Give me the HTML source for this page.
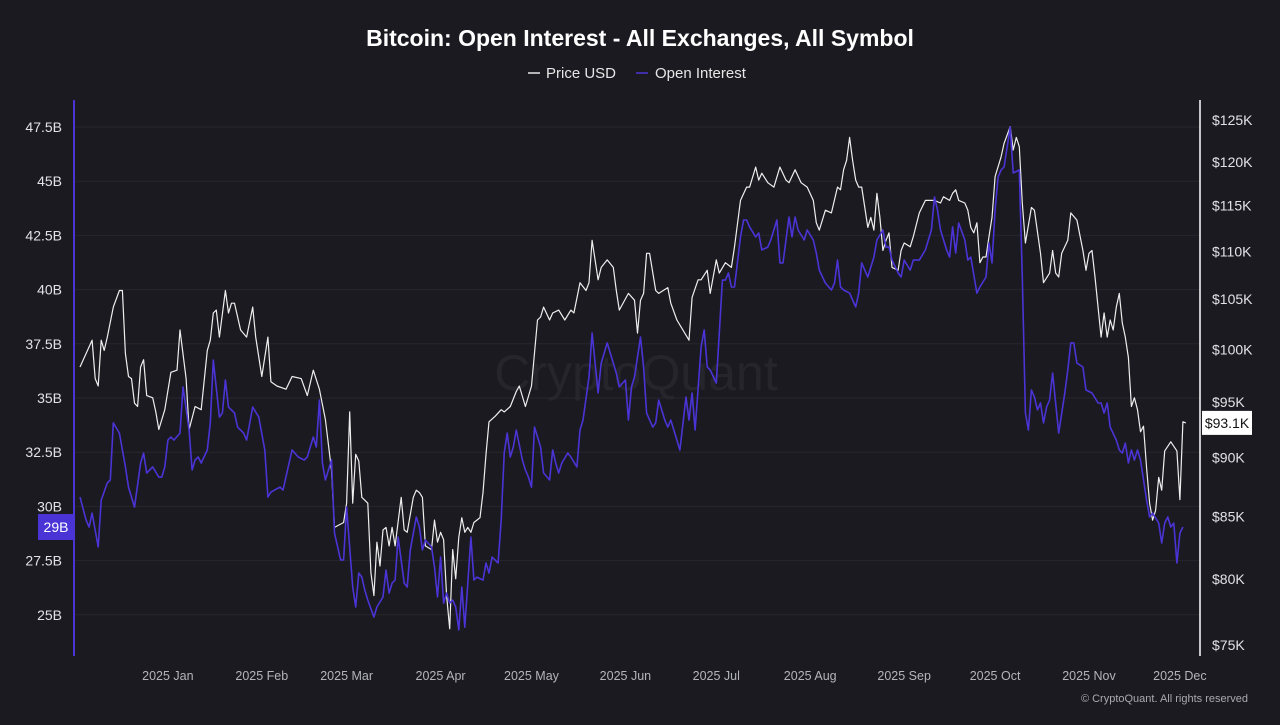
<!DOCTYPE html>
<html><head><meta charset="utf-8">
<style>
html,body{margin:0;padding:0;background:#1b1a20;}
body{width:1280px;height:720px;overflow:hidden;font-family:"Liberation Sans",sans-serif;}
svg text{font-family:"Liberation Sans",sans-serif;}
</style></head>
<body>
<svg id="chart" width="1280" height="720" viewBox="0 0 1280 720" xmlns="http://www.w3.org/2000/svg">
<rect x="0" y="0" width="1280" height="720" fill="#1b1a20"/>
<text x="640" y="46" text-anchor="middle" fill="#ffffff" font-size="23" font-weight="bold">Bitcoin: Open Interest - All Exchanges, All Symbol</text>
<g>
 <g><line x1="528" y1="73" x2="540" y2="73" stroke="#e8e8e8" stroke-width="1.5"/><text x="546" y="78" fill="#e6e6e6" font-size="15">Price USD</text></g>
 <g><line x1="636" y1="73" x2="648" y2="73" stroke="#4a34d6" stroke-width="1.5"/><text x="655" y="78" fill="#e6e6e6" font-size="15">Open Interest</text></g>
</g>
<text x="636" y="390" text-anchor="middle" fill="#26252c" font-size="50">CryptoQuant</text>
<g id="grid"></g>
<g id="lyax"></g>
<g id="ryax"></g>
<g id="xax"></g>
<g id="series"></g>
<g id="badges"></g>
<text x="1248" y="702" text-anchor="end" fill="#a9a9b0" font-size="11">© CryptoQuant. All rights reserved</text>
</svg>
<script>
// ---- data ----
const oiTicks = [25, 27.5, 30, 32.5, 35, 37.5, 40, 42.5, 45, 47.5];
const oiTickLabels = ["25B","27.5B","30B","32.5B","35B","37.5B","40B","42.5B","45B","47.5B"];
const priceTicks = [75, 80, 85, 90, 95, 100, 105, 110, 115, 120, 125];
const priceTickLabels = ["$75K","$80K","$85K","$90K","$95K","$100K","$105K","$110K","$115K","$120K","$125K"];
const monthDays = [29, 60, 88, 119, 149, 180, 210, 241, 272, 302, 333, 363];
const monthLabels = ["2025 Jan","2025 Feb","2025 Mar","2025 Apr","2025 May","2025 Jun","2025 Jul","2025 Aug","2025 Sep","2025 Oct","2025 Nov","2025 Dec"];
// day index from 2024-12-03
const priceDays = [0,2,4,5,6,7,8,9,11,13,14,15,16,17,18,19,20,21,22,24,25,26,28,30,32,33,35,36,38,40,42,43,44,45,46,48,49,50,51,53,55,57,58,60,62,63,65,68,70,73,75,77,79,81,83,84,87,88,89,90,91,92,93,95,96,97,98,99,100,101,102,103,104,106,107,108,110,111,112,113,114,116,117,118,119,120,121,122,123,124,125,126,127,128,129,130,131,132,133,134,135,137,139,140,142,144,145,147,149,151,152,153,155,156,158,160,162,163,165,167,168,169,171,172,174,176,177,178,181,183,184,185,186,187,188,190,191,194,195,197,201,202,204,205,207,208,210,211,213,215,216,218,220,221,223,224,225,227,229,231,233,234,236,238,240,242,243,244,246,248,250,251,252,253,254,255,256,257,258,259,260,261,262,263,264,265,266,267,268,270,271,272,274,275,277,279,282,284,285,287,288,289,290,292,293,294,295,296,297,298,299,300,301,302,304,305,307,308,309,310,311,312,314,315,317,318,320,321,322,323,324,326,327,329,331,332,333,334,335,337,338,339,340,341,342,343,344,345,346,347,348,349,350,351,352,353,354,355,356,357,358,360,362,363,364,365];
const priceValues = [98.3,99.6,100.9,97.2,96.5,100.9,99.9,101.2,104.2,105.9,105.9,99.6,97.4,97.2,94.9,94.6,98.3,99.0,95.6,95.4,94.1,92.5,94.3,97.8,98.0,101.9,97.2,92.5,94.6,94.3,99.9,100.9,103.6,103.9,101.2,105.9,103.6,104.6,104.6,101.9,101.2,104.2,101.2,97.4,101.2,96.9,96.5,96.2,97.4,97.2,95.6,98.0,96.2,93.4,88.9,84.1,84.5,86.1,94.1,86.1,90.3,89.7,86.6,86.1,80.5,78.7,82.9,81.0,83.9,84.1,82.6,84.1,82.6,86.6,83.9,83.7,86.6,87.2,87.0,86.6,82.6,82.3,84.7,82.9,83.7,83.1,78.7,76.2,82.3,80.0,83.3,84.9,83.7,84.1,83.7,84.5,84.7,84.9,87.0,90.3,93.2,93.7,94.3,94.1,94.6,96.0,96.5,94.6,96.5,102.9,103.2,104.2,102.9,103.6,103.9,102.9,103.9,103.6,106.7,105.9,106.7,111.2,107.0,108.3,109.1,108.3,105.9,103.9,105.6,104.9,101.6,104.9,105.6,109.8,109.8,105.9,105.6,106.2,104.6,102.9,100.9,105.2,107.0,107.0,108.0,105.6,109.1,107.7,108.8,108.3,110.5,115.6,117.1,117.1,119.4,117.9,118.7,117.6,117.1,119.4,117.9,117.6,119.1,117.6,117.1,115.6,113.1,112.3,114.5,114.2,117.1,116.8,119.1,120.2,122.9,120.2,117.9,117.1,117.1,114.8,112.6,113.7,112.3,116.4,113.7,110.1,111.2,112.0,108.3,108.0,110.1,110.9,110.5,111.6,114.2,115.6,115.6,115.3,116.0,115.6,116.4,116.8,115.6,115.3,114.5,112.6,112.0,113.1,108.8,109.4,109.4,111.6,113.7,118.3,120.6,122.2,124.2,121.4,122.9,121.8,115.3,110.9,114.8,114.5,109.8,106.7,107.7,110.1,107.7,107.3,109.8,111.2,114.2,113.4,110.1,108.0,109.8,110.1,107.3,101.2,103.6,101.2,102.9,101.9,104.2,105.6,102.6,101.2,99.2,94.6,95.4,94.3,92.3,92.8,89.1,86.1,84.7,85.5,88.3,87.2,90.6,91.4,90.6,86.4,93.2,93.1];
const oiDays = [0,2,3,4,6,7,9,10,11,13,15,16,17,18,20,21,22,23,24,26,27,28,29,30,31,33,34,36,37,38,39,40,42,43,44,46,47,48,49,51,52,54,55,57,59,61,62,63,66,67,69,70,72,74,75,77,78,79,80,81,83,84,86,87,88,90,91,92,93,94,95,97,98,100,101,102,103,104,105,107,108,109,111,112,113,114,116,117,118,119,120,121,122,123,124,125,126,127,128,129,130,131,133,134,135,136,138,139,140,141,142,143,144,146,147,148,149,150,152,153,155,156,157,158,159,161,162,164,165,166,168,169,171,172,174,175,177,178,180,181,182,183,185,186,187,189,190,191,193,194,195,197,198,200,201,202,203,205,206,207,208,210,211,212,213,214,215,216,218,219,220,221,223,224,225,227,228,230,231,232,234,235,236,237,239,240,242,243,244,246,248,249,250,251,252,254,255,256,257,258,260,262,263,265,266,267,268,270,271,272,274,275,277,279,281,282,283,284,286,287,288,289,290,292,293,294,296,297,299,300,301,302,303,304,305,307,308,310,311,312,313,314,315,316,317,318,319,320,321,323,325,326,327,328,329,331,332,334,336,337,338,339,340,342,343,344,345,346,347,348,349,350,352,353,354,356,357,358,359,360,361,362,363,364];
const oiValues = [30.43,29.37,29.05,29.69,28.13,30.29,31.08,31.22,33.85,33.38,31.82,30.89,30.43,29.97,32.00,32.46,31.54,31.68,31.82,31.35,31.35,31.82,33.06,33.20,33.06,33.38,35.51,33.52,31.68,32.14,32.28,32.00,32.60,33.85,36.75,34.12,34.31,35.83,34.58,34.31,33.66,33.38,33.06,34.58,34.12,32.60,30.43,30.66,30.89,30.75,32.00,32.60,32.28,32.14,32.28,33.20,32.74,34.91,32.00,31.22,32.14,28.77,27.53,27.53,29.97,26.28,25.36,26.93,26.74,26.14,25.68,24.90,25.36,25.82,27.06,26.00,26.46,26.60,28.59,26.46,26.28,27.99,29.51,29.05,27.99,28.45,28.13,27.20,25.82,27.66,25.54,26.00,25.54,25.68,25.36,24.30,26.28,24.43,26.46,28.59,26.60,26.74,26.60,27.39,26.93,27.66,27.39,29.37,32.46,33.38,32.28,32.74,33.52,32.14,31.68,31.35,30.89,33.66,32.74,31.54,31.22,32.60,32.00,31.54,32.00,32.46,32.28,31.82,33.52,33.98,35.97,38.00,35.23,36.61,37.54,37.07,36.15,35.51,35.83,33.98,35.51,35.97,37.81,36.43,34.31,33.66,33.85,34.91,33.98,33.66,33.98,33.06,32.60,35.04,33.98,35.23,33.52,37.35,38.14,36.43,36.29,35.69,38.00,40.44,40.44,40.77,40.12,40.12,42.43,43.21,43.21,42.89,42.43,42.61,41.83,41.96,42.29,43.21,41.23,41.23,43.35,42.43,43.35,42.75,42.29,42.75,42.29,41.69,40.90,40.30,39.98,40.30,41.36,40.12,39.98,39.84,39.52,39.20,39.84,41.23,40.58,41.50,42.29,42.75,41.96,41.96,41.36,40.77,40.58,41.36,40.90,41.36,41.36,41.83,42.75,44.27,43.67,42.75,41.83,41.50,42.89,41.69,43.07,42.29,41.36,41.50,39.84,40.12,40.58,42.15,41.23,43.67,45.19,45.52,45.66,47.5,45.38,45.52,40.58,34.31,33.52,35.37,35.04,34.45,34.77,33.85,34.58,34.91,36.15,33.38,35.23,36.29,37.54,37.54,36.61,36.43,35.37,35.23,34.77,34.77,34.31,34.77,33.66,33.06,32.60,32.46,32.92,32.00,32.60,32.14,32.60,32.14,30.29,29.51,29.69,29.23,28.31,29.23,29.51,29.05,29.23,27.39,28.77,29.05];

// ---- scales ----
const NS = "http://www.w3.org/2000/svg";
const X0 = 80, DX = 3.03;
function xScale(d){ return X0 + d*DX; }
function yOI(v){ return 127 + (47.5 - v) / 2.5 * 54.2; }
function yPrice(p){ return 120 + Math.log(125 / p) * 1028; }
function mk(tag, attrs, parent){ const e=document.createElementNS(NS,tag); for(const k in attrs) e.setAttribute(k,attrs[k]); parent.appendChild(e); return e; }

const grid = document.getElementById('grid');
const lyax = document.getElementById('lyax');
const ryax = document.getElementById('ryax');
const xax = document.getElementById('xax');
const series = document.getElementById('series');
const badges = document.getElementById('badges');

oiTicks.forEach((t,i)=>{
  const y = yOI(t);
  const g = mk('line',{x1:75,x2:1200,y1:y,y2:y,stroke:'#27262e','stroke-width':1},grid);
  
  
  const tx = mk('text',{x:62,y:y+5,'text-anchor':'end',fill:'#e2e2e6','font-size':14},lyax);
  tx.textContent = oiTickLabels[i];
  
  
});
const la = mk('line',{x1:74,x2:74,y1:100,y2:656,stroke:'#4a34d6','stroke-width':2},lyax);



priceTicks.forEach((t,i)=>{
  const y = yPrice(t);
  const tx = mk('text',{x:1212,y:y+5,fill:'#e2e2e6','font-size':14},ryax);
  tx.textContent = priceTickLabels[i];
  
  
});
const ra = mk('line',{x1:1200,x2:1200,y1:100,y2:656,stroke:'#ffffff','stroke-width':1.5},ryax);



monthDays.forEach((d,i)=>{
  const tx = mk('text',{x:xScale(d),y:680,'text-anchor':'middle',fill:'#b4b4bb','font-size':12.5},xax);
  tx.textContent = monthLabels[i];
  
  
});

function path(days, vals, yf){
  return days.map((d,i)=>(i?'L':'M')+xScale(d).toFixed(1)+','+yf(vals[i]).toFixed(1)).join(' ');
}
const pp = mk('path',{d:path(priceDays,priceValues,yPrice),fill:'none',stroke:'#eeeeee','stroke-width':1.2,'stroke-linejoin':'round'},series);


const op = mk('path',{d:path(oiDays,oiValues,yOI),fill:'none',stroke:'#4a34d6','stroke-width':1.6,'stroke-linejoin':'round'},series);



// badges
const lastOI = oiValues[oiValues.length-1];
const yb = yOI(lastOI);
const b1 = mk('rect',{x:38,y:yb-13,width:36,height:26,fill:'#4a34d6'},badges);


const t1 = mk('text',{x:56,y:yb+5,'text-anchor':'middle',fill:'#ffffff','font-size':14},badges);
t1.textContent = Math.round(lastOI)+'B';


const lastP = priceValues[priceValues.length-1];
const yp = yPrice(lastP);
const b2 = mk('rect',{x:1202,y:yp-12,width:50,height:24,fill:'#ffffff'},badges);


const t2 = mk('text',{x:1227,y:yp+5,'text-anchor':'middle',fill:'#111111','font-size':14},badges);
t2.textContent = '$'+lastP.toFixed(1)+'K';


</script>
</body></html>
